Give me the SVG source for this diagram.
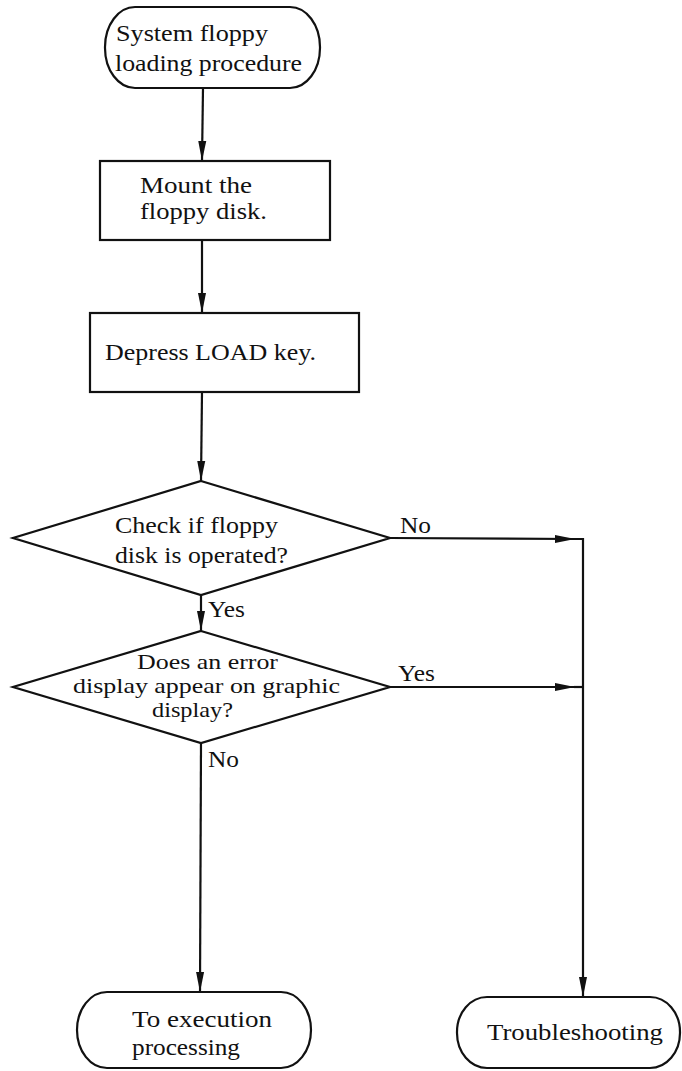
<svg xmlns="http://www.w3.org/2000/svg" width="682" height="1071" viewBox="0 0 682 1071">
  <defs>
    <style>
      .shape { fill: #ffffff; stroke: #111111; stroke-width: 2.2; }
      .conn { fill: none; stroke: #111111; stroke-width: 2.2; }
      .lbl { font-family: "Liberation Serif", "Times New Roman", serif; font-size: 23px; fill: #111111; }
      .sm { font-size: 21px; }
    </style>
    <marker id="arrow" viewBox="0 0 20 9" refX="20" refY="4.5" markerWidth="20" markerHeight="9" markerUnits="userSpaceOnUse" orient="auto">
      <path d="M0,0.5 L20,4.5 L0,8.5 Z" fill="#111111"/>
    </marker>
  </defs>

  <rect width="682" height="1071" fill="#ffffff"/>

  <!-- connectors -->
  <g id="connectors">
    <path class="conn" d="M203,88 L202,161" marker-end="url(#arrow)"/>
    <path class="conn" d="M202,240 L202,313" marker-end="url(#arrow)"/>
    <path class="conn" d="M202,392 L201,481" marker-end="url(#arrow)"/>
    <path class="conn" d="M201,595 L201,631" marker-end="url(#arrow)"/>
    <path class="conn" d="M201,743 L200,992" marker-end="url(#arrow)"/>
    <!-- "No" branch joins the right-hand trunk -->
    <path class="conn" d="M390,538 L575,539" marker-end="url(#arrow)"/>
    <path class="conn" d="M574,539 L583,539 L583,997" stroke-width="2.8" marker-end="url(#arrow)"/>
    <!-- "Yes" branch -->
    <path class="conn" d="M390,687 L575,687" marker-end="url(#arrow)"/>
    <path class="conn" d="M574,687 L583,687"/>
    <text class="lbl" x="400" y="533" textLength="31" lengthAdjust="spacingAndGlyphs">No</text>
    <text class="lbl" x="398" y="681" textLength="37" lengthAdjust="spacingAndGlyphs">Yes</text>
    <text class="lbl" x="208" y="617" textLength="37" lengthAdjust="spacingAndGlyphs">Yes</text>
    <text class="lbl" x="208" y="767" textLength="31" lengthAdjust="spacingAndGlyphs">No</text>
  </g>

  <g id="start">
    <rect class="shape" x="105" y="7" width="215" height="81" rx="30" ry="40"/>
    <text class="lbl" x="116" y="41" textLength="152" lengthAdjust="spacingAndGlyphs">System floppy</text>
    <text class="lbl" x="115" y="71" textLength="187" lengthAdjust="spacingAndGlyphs">loading procedure</text>
  </g>

  <g id="mount">
    <rect class="shape" x="100" y="161" width="230" height="79"/>
    <text class="lbl" x="140" y="193" textLength="112" lengthAdjust="spacingAndGlyphs">Mount the</text>
    <text class="lbl" x="140" y="219" textLength="127" lengthAdjust="spacingAndGlyphs">floppy disk.</text>
  </g>

  <g id="load">
    <rect class="shape" x="90" y="313" width="269" height="79"/>
    <text class="lbl" x="105" y="360" textLength="211" lengthAdjust="spacingAndGlyphs">Depress LOAD key.</text>
  </g>

  <g id="check-operated">
    <polygon class="shape" points="201,481 390,538 201,595 13,538"/>
    <text class="lbl" x="115" y="533" textLength="163" lengthAdjust="spacingAndGlyphs">Check if floppy</text>
    <text class="lbl" x="115" y="563" textLength="173" lengthAdjust="spacingAndGlyphs">disk is operated?</text>
  </g>

  <g id="check-error">
    <polygon class="shape" points="201,631 390,687 201,743 13,687"/>
    <text class="lbl sm" x="137" y="669" textLength="141" lengthAdjust="spacingAndGlyphs">Does an error</text>
    <text class="lbl sm" x="73" y="693" textLength="267" lengthAdjust="spacingAndGlyphs">display appear on graphic</text>
    <text class="lbl sm" x="152" y="717" textLength="81" lengthAdjust="spacingAndGlyphs">display?</text>
  </g>

  <g id="execution">
    <rect class="shape" x="77" y="992" width="234" height="76" rx="30" ry="38"/>
    <text class="lbl" x="132" y="1027" textLength="140" lengthAdjust="spacingAndGlyphs">To execution</text>
    <text class="lbl" x="132" y="1055" textLength="108" lengthAdjust="spacingAndGlyphs">processing</text>
  </g>

  <g id="troubleshooting">
    <rect class="shape" x="457" y="997" width="223" height="71" rx="30" ry="35"/>
    <text class="lbl" x="487" y="1040" textLength="176" lengthAdjust="spacingAndGlyphs">Troubleshooting</text>
  </g>
</svg>
